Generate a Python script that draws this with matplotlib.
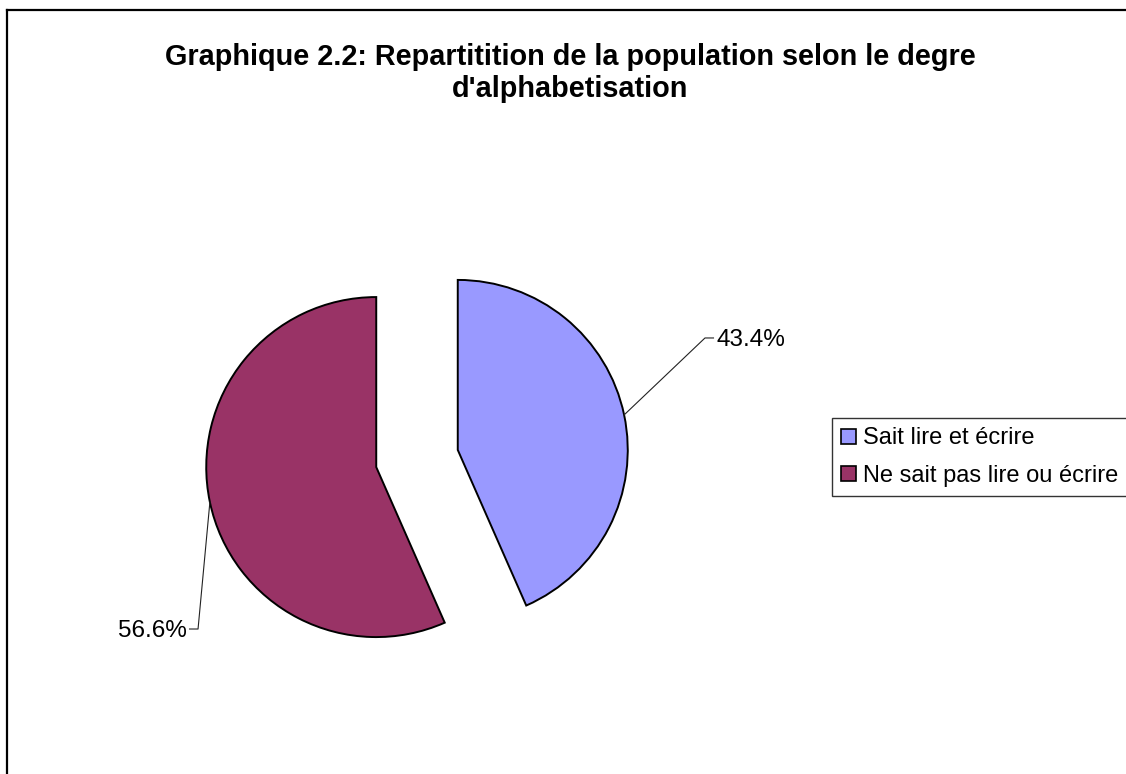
import numpy as np
import matplotlib
matplotlib.use('Agg')
import matplotlib.pyplot as plt
from matplotlib.lines import Line2D

# Chart data
categories = ['Sait lire et écrire', 'Ne sait pas lire ou écrire']
shares = [43.4, 56.6]
colors = ['#9999FF', '#993366']
title = "Graphique 2.2: Repartitition de la population selon le degre\nd'alphabetisation"

plt.rcParams['font.family'] = ['Liberation Sans', 'DejaVu Sans']

W, H = 1126, 774
fig = plt.figure(figsize=(W / 100, H / 100), dpi=100)
fig.patch.set_facecolor('white')

# axes placed so the pie sits where it does in the original (pixel layout)
cx, cy, R = 417, 774 - 458.5, 170
half = 300
ax = fig.add_axes([(cx - half) / W, (cy - half) / H, 2 * half / W, 2 * half / H])

explode = 0.245
wedges, _ = ax.pie(shares, colors=colors, startangle=90, counterclock=False,
                   explode=[explode, explode], radius=1.0,
                   wedgeprops=dict(edgecolor='black', linewidth=1.4))

# pie() resets the limits, so fix them afterwards
lim = half / R
ax.set_xlim(-lim, lim)
ax.set_ylim(-lim, lim)
ax.set_aspect('equal')
ax.axis('off')

# leader lines + percentage labels (elbow positions are layout, in axis units)
elbows = [(1.694, 0.709), (-1.288, -1.003)]
for w, val, (ex, ey) in zip(wedges, shares, elbows):
    mid = np.deg2rad((w.theta1 + w.theta2) / 2)
    d = np.array([np.cos(mid), np.sin(mid)])
    p0 = d * (1.0 + explode)
    side = 1 if ex > 0 else -1
    ax.plot([p0[0], ex, ex + side * 0.05], [p0[1], ey, ey], color='#222222',
            lw=0.8, clip_on=False)
    ax.text(ex + side * 0.065, ey - 0.012, f'{val:.1f}%',
            ha='left' if side > 0 else 'right',
            va='center', fontsize=17.5, color='black')

fig.text(570 / W, 1 - 73 / H, title, ha='center', va='center', fontsize=20.8,
         fontweight='bold', linespacing=1.2)

leg = fig.legend(wedges, categories, loc='upper left',
                 bbox_to_anchor=(832 / W, 1 - 418 / H), fontsize=17,
                 frameon=True, fancybox=False, borderpad=0.4, handlelength=0.6,
                 handleheight=0.6, handletextpad=0.3, labelspacing=0.65,
                 borderaxespad=0)
leg.get_frame().set_edgecolor('black')
leg.get_frame().set_linewidth(1.0)
for h in leg.legend_handles:
    h.set_linewidth(1.2)

# outer chart frame (only left and top edges fall inside the image)
fig.add_artist(Line2D([7 / W, 7 / W], [0, 1 - 10 / H], transform=fig.transFigure,
                      color='black', lw=1.6))
fig.add_artist(Line2D([7 / W, 1], [1 - 10 / H, 1 - 10 / H], transform=fig.transFigure,
                      color='black', lw=1.6))

fig.savefig('out.png', dpi=100)
